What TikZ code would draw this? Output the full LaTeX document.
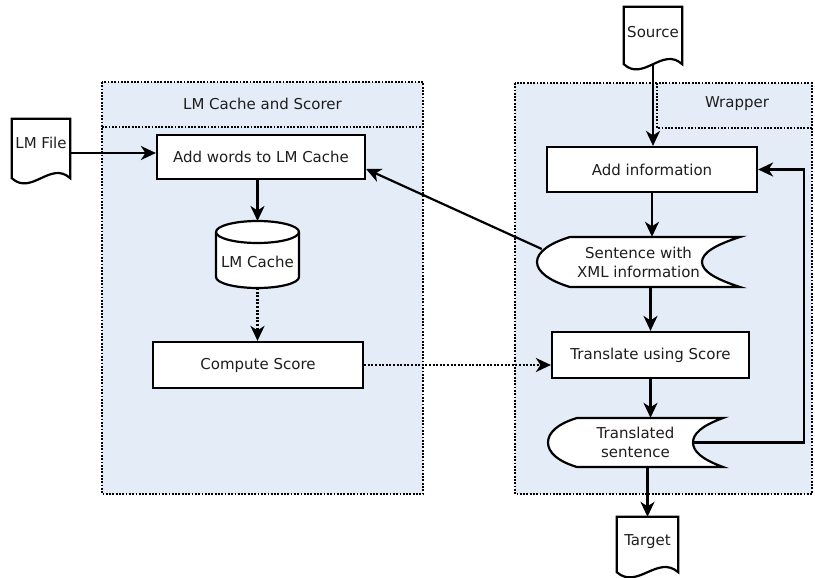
\documentclass[tikz,border=0pt]{standalone}
\usepackage{fontspec}
\setmainfont{DejaVu Sans}
\usetikzlibrary{arrows.meta,calc}
\pgfdeclarelayer{lanes}
\pgfdeclarelayer{shapes}
\pgfsetlayers{lanes,shapes,main}
\definecolor{lanefill}{RGB}{227,236,247}
\definecolor{ink}{RGB}{30,30,30}

% document symbol: flat top, wavy bottom, drawn round a named node
\newcommand\docoutline[1]{%
  \draw[outline, fill=none] (#1.north west) -- (#1.north east) -- (#1.south east)
    .. controls ($(#1.south east)!1/3!(#1.south west)+(0,18)$)
    and ($(#1.south east)!2/3!(#1.south west)+(0,-18)$) .. (#1.south west) -- cycle;}

\begin{document}
\begin{tikzpicture}[x=1pt, y=1pt,
  font=\fontsize{15}{19}\selectfont, text=ink,
  procbox/.style={draw=black, line width=2.2pt, fill=white, inner sep=0pt, align=center},
  txt/.style={inner sep=0pt, align=center},
  outline/.style={draw=black, line width=2.2pt, fill=white, line join=miter},
  flow/.style={line width=2.2pt, -{Stealth[length=15pt, width=14pt, inset=4.5pt]}},
  dotflow/.style={flow, dash pattern=on 2pt off 1.6pt},
  lane/.style={draw=black, line width=1.9pt, dash pattern=on 1.8pt off 1.5pt}]

\useasboundingbox (0,0) rectangle (815,-578);

% swimlanes
\begin{pgfonlayer}{lanes}
  \draw[lane, fill=lanefill] (102,-82) rectangle (423,-494);
  \draw[lane] (102,-127) -- (423,-127);
  \draw[lane, fill=lanefill] (515,-83) rectangle (812,-494);
  \draw[lane] (657,-83) -- (657,-128) -- (812,-128);
\end{pgfonlayer}
\node[txt] (scorertitle) at (262.5,-104) {LM Cache and Scorer};
\node[txt] (wrappertitle) at (737,-104) {Wrapper};

% process steps
\node[procbox, minimum width=208, minimum height=44] (addwords) at (261,-157) {Add words to LM Cache};
\node[procbox, minimum width=210, minimum height=46] (compute) at (258,-365) {Compute Score};
\node[procbox, minimum width=210, minimum height=45] (addinfo) at (652,-169.5) {Add information};
\node[procbox, minimum width=197, minimum height=46] (translate) at (650.5,-355) {Translate using Score};

% documents
\node[txt, minimum width=58, minimum height=59, text height=6pt, text depth=6.2pt] (lmfile) at (41,-148.5) {LM File};
\node[txt, minimum width=58, minimum height=57, text height=8pt, text depth=4.2pt] (source) at (653,-35.5) {Source};
\node[txt, minimum width=61, minimum height=55, text height=7pt, text depth=5.2pt] (target) at (647.5,-544.5) {Target};
\docoutline{lmfile}
\docoutline{source}
\docoutline{target}

% storage cylinder
\node[txt, minimum width=83, minimum height=56] (cache) at (257.5,-262) {LM Cache};
\coordinate (cachetop) at (257.5,-221);
\coordinate (cachebot) at (257.5,-288);
\begin{pgfonlayer}{shapes}
  \draw[outline] (216,-232) -- (216,-277)
    arc[start angle=180, end angle=360, x radius=41.5, y radius=11] -- (299,-232)
    arc[start angle=0, end angle=180, x radius=41.5, y radius=11] -- cycle;
  \draw[outline, fill=none] (216,-232) arc[start angle=180, end angle=360, x radius=41.5, y radius=11];
\end{pgfonlayer}

% display symbols
\node[txt, minimum width=203, minimum height=50] (sentence) at (638.5,-262) {Sentence with\\XML information};
\node[txt, minimum width=175, minimum height=49] (translated) at (635.5,-442.5) {Translated\\sentence};
\begin{pgfonlayer}{shapes}
  \draw[outline] (570,-237) -- (740,-237)
    .. controls (715,-245) and (702,-253) .. (702,-262)
    .. controls (702,-271) and (715,-279) .. (740,-287) -- (570,-287)
    .. controls (550,-281) and (537,-272) .. (537,-262)
    .. controls (537,-252) and (550,-243) .. (570,-237) -- cycle;
  \draw[outline] (577,-418) -- (723,-418)
    .. controls (701,-426) and (693,-434) .. (693,-442.5)
    .. controls (693,-451) and (701,-459) .. (723,-467) -- (577,-467)
    .. controls (557,-461) and (548,-452) .. (548,-442.5)
    .. controls (548,-433) and (557,-424) .. (577,-418) -- cycle;
\end{pgfonlayer}

% connectors
\coordinate (loop) at (804,-300);
\draw[flow] ([yshift=-4.5]lmfile.east) -- ([yshift=-4.5]lmfile.east -| addwords.west);
\draw[flow] (cachetop |- addwords.south) -- (cachetop);
\draw[dotflow] (cachebot) -- (cachebot |- compute.north);
\draw[dotflow] (compute.east) -- (compute.east -| translate.west);
\draw[flow] (source.south) -- (source.south |- addinfo.north);
\draw[flow] (addinfo.south) -- (addinfo.south |- sentence.north);
\draw[flow] (translate.north |- sentence.south) -- (translate.north);
\draw[flow] (translate.south) -- (translate.south |- translated.north);
\draw[flow] (target.north |- translated.south) -- (target.north);
\draw[flow] ([shift={(5,13)}]sentence.west) -- ([yshift=-12]addwords.east);
\draw[flow] ([xshift=-30]translated.east) -| (loop) |- (addinfo.east);

\end{tikzpicture}
\end{document}
